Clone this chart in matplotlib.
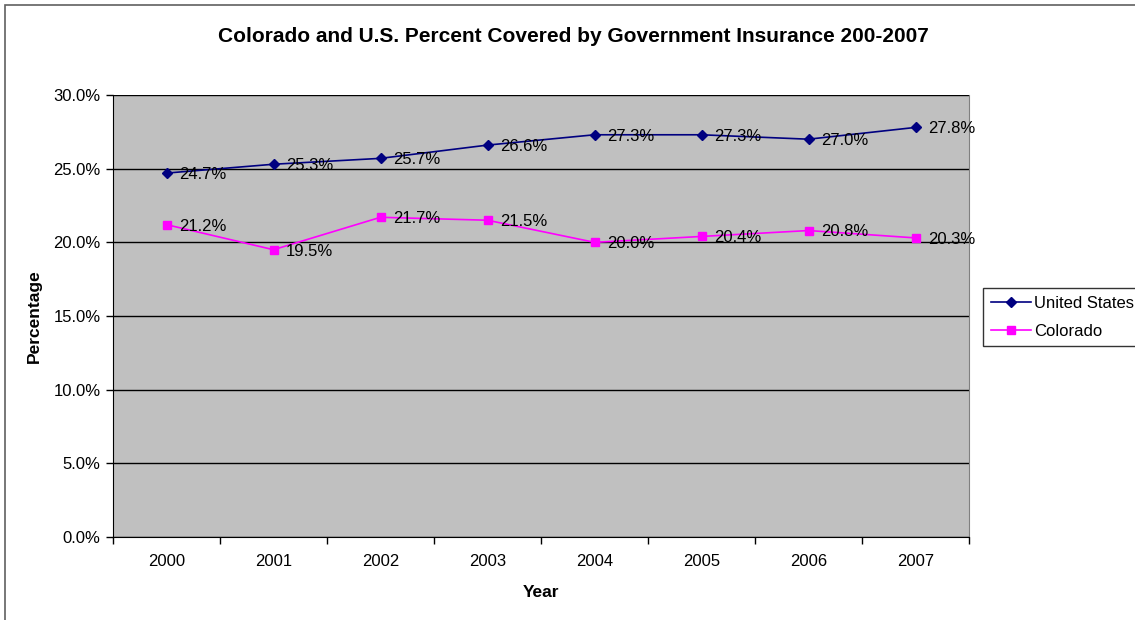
import matplotlib
matplotlib.use("Agg")
import matplotlib.pyplot as plt
from matplotlib.patches import Rectangle
from matplotlib.ticker import FuncFormatter, MultipleLocator

plt.rcParams['font.family'] = ['Liberation Sans', 'DejaVu Sans']

years = ["2000", "2001", "2002", "2003", "2004", "2005", "2006", "2007"]
us = [24.7, 25.3, 25.7, 26.6, 27.3, 27.3, 27.0, 27.8]
co = [21.2, 19.5, 21.7, 21.5, 20.0, 20.4, 20.8, 20.3]

fig = plt.figure(figsize=(11.35, 6.2), dpi=100)
fig.patches.append(Rectangle((5/1135, -0.1), 1.2, 1 - 5/620 + 0.1, transform=fig.transFigure,
                             fill=False, edgecolor='#606060', linewidth=1.2))
ax = fig.add_axes([113/1135, 1 - 537/620, (969-113)/1135, (537-95)/620])
ax.set_facecolor('#c0c0c0')

x = list(range(len(years)))
ax.plot(x, us, color='#000080', marker='D', markersize=5, linewidth=1.2, label='United States')
ax.plot(x, co, color='#ff00ff', marker='s', markersize=6, linewidth=1.2, label='Colorado')

for xi, v in zip(x, us):
    ax.annotate(f"{v:.1f}%", (xi, v), xytext=(9, -1), textcoords='offset points',
                ha='left', va='center', fontsize=12)
for xi, v in zip(x, co):
    ax.annotate(f"{v:.1f}%", (xi, v), xytext=(9, -1), textcoords='offset points',
                ha='left', va='center', fontsize=12)

ax.set_xlim(-0.5, len(years) - 0.5)
ax.set_ylim(0, 30)
ax.yaxis.set_major_locator(MultipleLocator(5))
ax.yaxis.set_major_formatter(FuncFormatter(lambda v, p: f"{v:.1f}%"))
ax.set_xticks(x)
ax.set_xticklabels(years)
ax.set_xticks([i - 0.5 for i in range(len(years) + 1)], minor=True)
ax.tick_params(axis='x', which='major', length=0, pad=12, labelsize=12)
ax.tick_params(axis='x', which='minor', length=5, direction='out', width=1)
ax.tick_params(axis='y', length=5, direction='out', labelsize=12, width=1, pad=4)
ax.yaxis.grid(True, color='black', linewidth=1)
ax.set_axisbelow(True)
ax.spines['top'].set_visible(False)
ax.spines['right'].set_color('#808080')
ax.spines['left'].set_color('black')
ax.spines['bottom'].set_color('black')

ax.set_xlabel('Year', fontsize=12.5, fontweight='bold', labelpad=12)
ax.set_ylabel('Percentage', fontsize=12.5, fontweight='bold', labelpad=8)
fig.text(573/1135, 1 - 36/620, 'Colorado and U.S. Percent Covered by Government Insurance 200-2007',
         ha='center', va='center', fontsize=15, fontweight='bold')

leg = fig.legend(loc='upper left', bbox_to_anchor=(983/1135, 1 - 288/620), frameon=True,
                 fontsize=12, fancybox=False, edgecolor='black', handlelength=2.4,
                 borderpad=0.45, labelspacing=0.8, handletextpad=0.2, borderaxespad=0)
leg.get_frame().set_linewidth(1)

fig.savefig('out.png', dpi=100, facecolor='white')
